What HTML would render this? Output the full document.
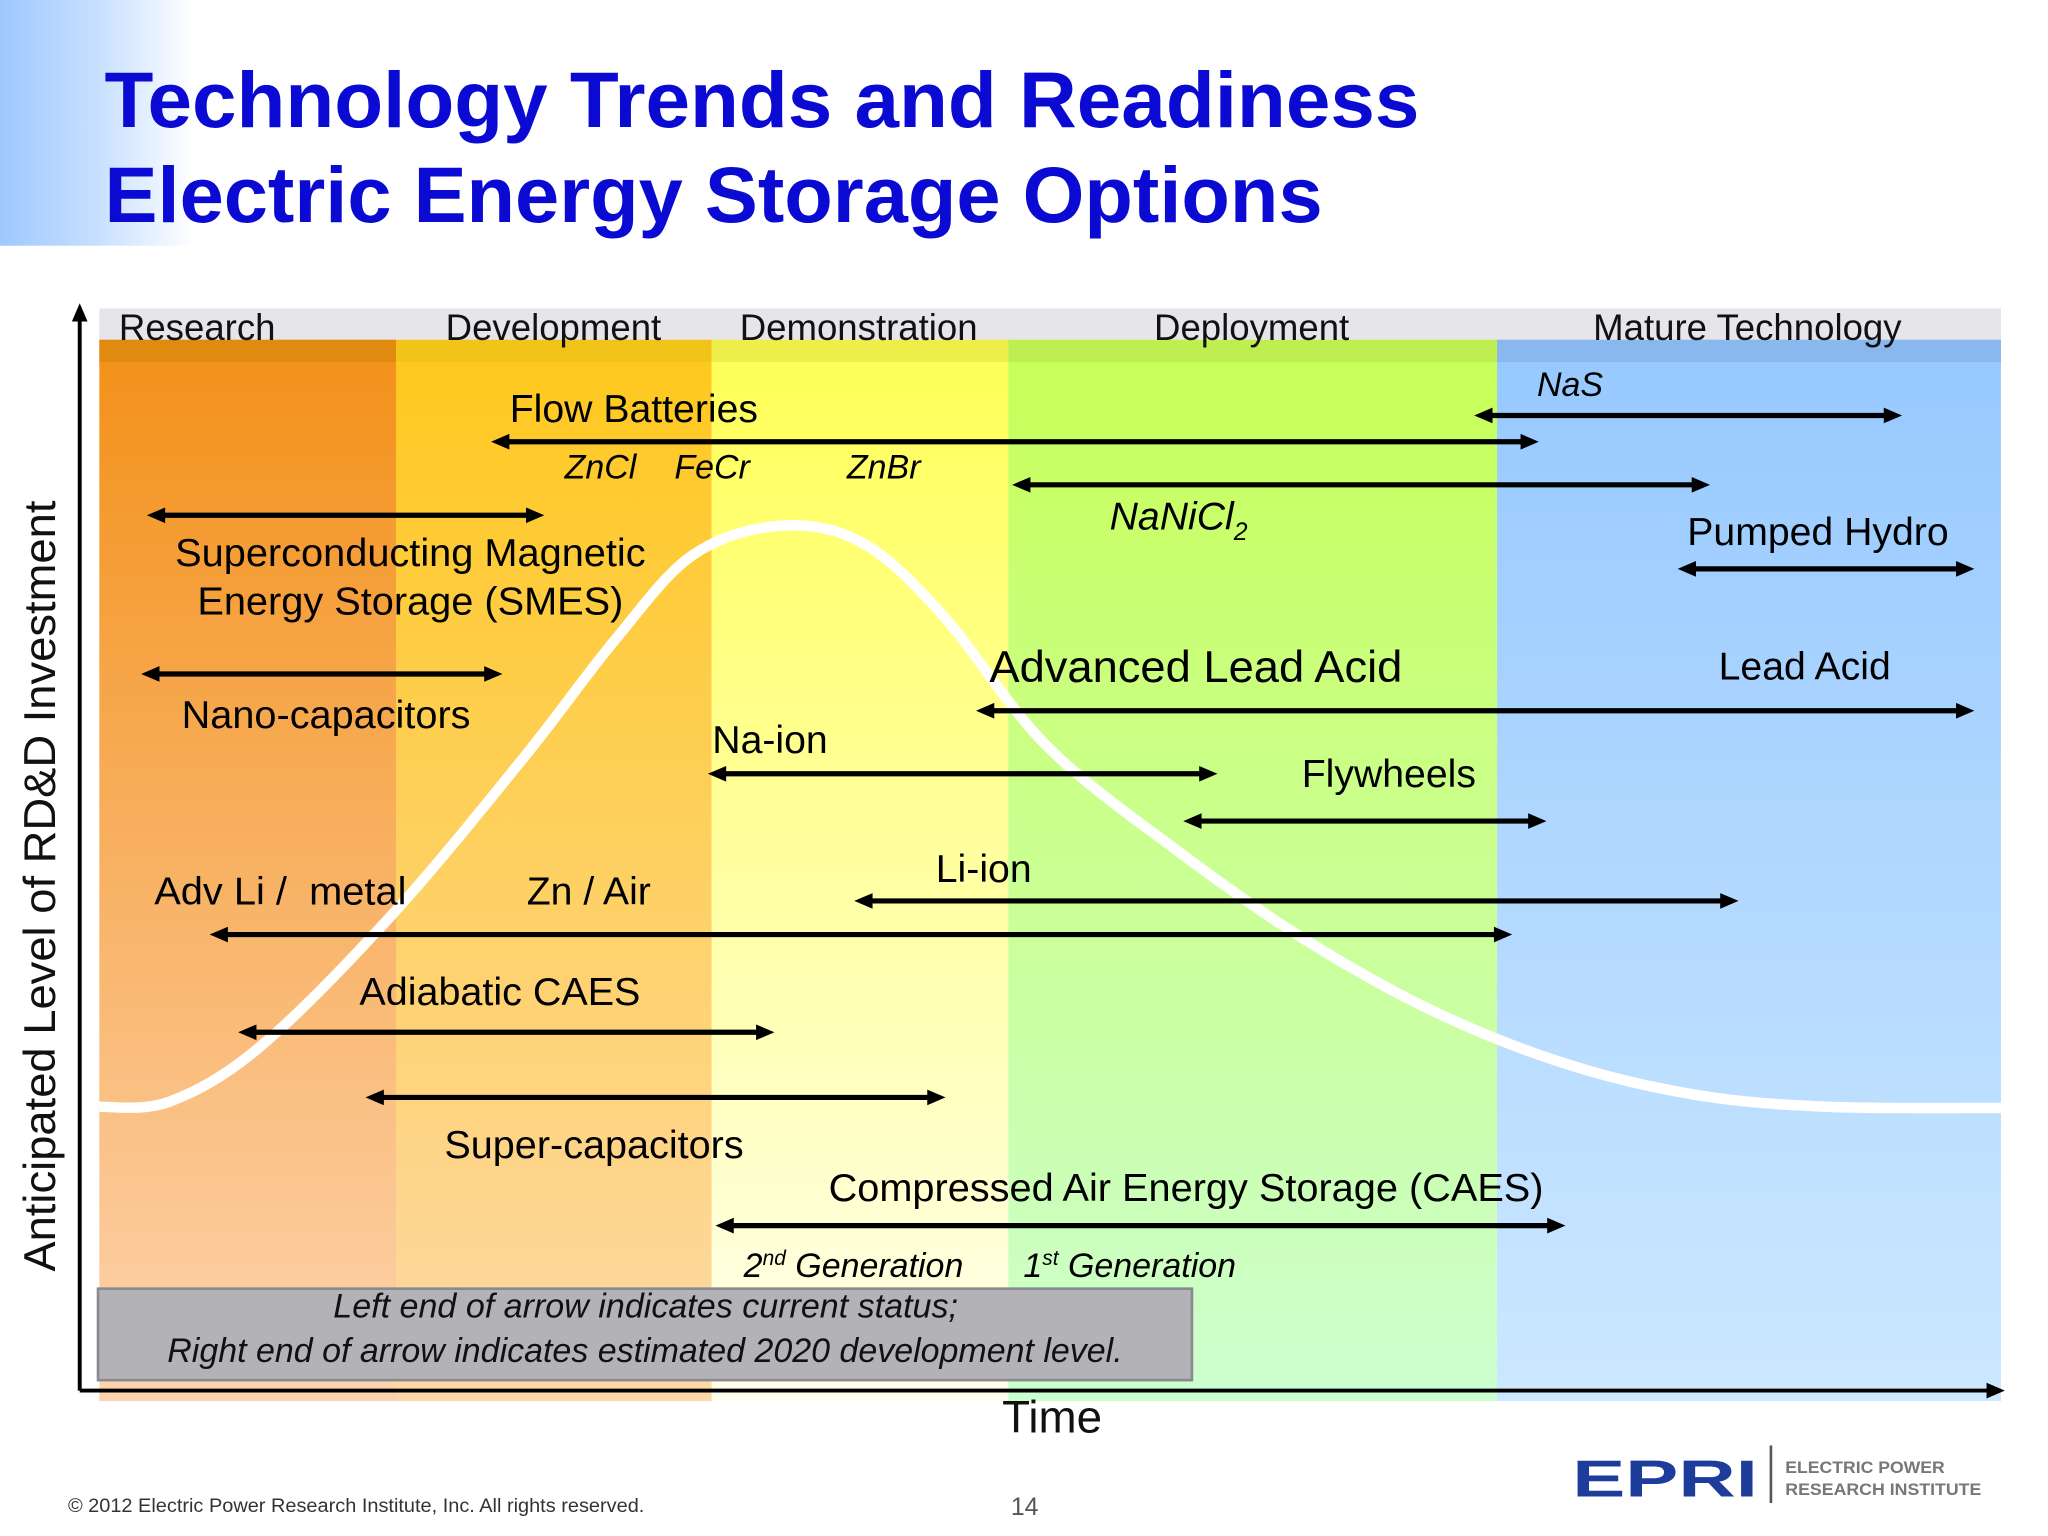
<!DOCTYPE html>
<html><head><meta charset="utf-8"><style>
html,body{margin:0;padding:0;background:#fff;}
svg{display:block;font-family:"Liberation Sans",Arial,sans-serif;}
</style></head><body>
<svg id="chart" width="2048" height="1536" viewBox="0 0 1567 1175.25" xmlns="http://www.w3.org/2000/svg">
<defs>
<linearGradient id="topblue" x1="0" x2="1" y1="0" y2="0"><stop offset="0" stop-color="#9ec8ff"/><stop offset="0.5" stop-color="#c8e0ff"/><stop offset="1" stop-color="#ffffff"/></linearGradient>
<linearGradient id="gR" x1="0" x2="0" y1="0" y2="1"><stop offset="0" stop-color="#f39018"/><stop offset="1" stop-color="#fdd3ae"/></linearGradient>
<linearGradient id="gD" x1="0" x2="0" y1="0" y2="1"><stop offset="0" stop-color="#ffc81c"/><stop offset="1" stop-color="#fdd9a8"/></linearGradient>
<linearGradient id="gM" x1="0" x2="0" y1="0" y2="1"><stop offset="0" stop-color="#ffff55"/><stop offset="1" stop-color="#ffffee"/></linearGradient>
<linearGradient id="gP" x1="0" x2="0" y1="0" y2="1"><stop offset="0" stop-color="#c8ff55"/><stop offset="1" stop-color="#ccffd0"/></linearGradient>
<linearGradient id="gT" x1="0" x2="0" y1="0" y2="1"><stop offset="0" stop-color="#96c8ff"/><stop offset="1" stop-color="#cce8ff"/></linearGradient>
</defs>
<rect x="0" y="0" width="150" height="188" fill="url(#topblue)"/>
<text x="80" y="97" font-size="60" font-weight="bold" fill="#0a0ad2" textLength="1006" lengthAdjust="spacingAndGlyphs">Technology Trends and Readiness</text>
<text x="80" y="170" font-size="60" font-weight="bold" fill="#0a0ad2" textLength="932" lengthAdjust="spacingAndGlyphs">Electric Energy Storage Options</text>

<rect x="76" y="236" width="1455" height="25" fill="#e6e6ea"/>
<g id="stages"></g>
<g id="curve"></g>
<g id="arrows"></g>

<g stroke="#000" stroke-width="3">
<line x1="61" y1="1064" x2="61" y2="242"/>
<line x1="61" y1="1064" x2="1524" y2="1064"/>
</g>
<polygon points="61,232 55,246 67,246" fill="#000"/>
<polygon points="1534,1064 1520,1058 1520,1070" fill="#000"/>

<g font-size="28" fill="#111">
<text x="91" y="260">Research</text>
<text x="341" y="260">Development</text>
<text x="566" y="260">Demonstration</text>
<text x="883" y="260">Deployment</text>
<text x="1219" y="260">Mature Technology</text>
</g>

<g font-size="30" fill="#000">
<text x="390" y="323">Flow Batteries</text>
<text x="1291" y="417">Pumped Hydro</text>
<text x="134" y="433" textLength="360" lengthAdjust="spacingAndGlyphs">Superconducting Magnetic</text>
<text x="151" y="470" textLength="326" lengthAdjust="spacingAndGlyphs">Energy Storage (SMES)</text>
<text x="757" y="522" font-size="34" textLength="316" lengthAdjust="spacingAndGlyphs">Advanced Lead Acid</text>
<text x="1315" y="520">Lead Acid</text>
<text x="139" y="557" textLength="221" lengthAdjust="spacingAndGlyphs">Nano-capacitors</text>
<text x="545" y="576">Na-ion</text>
<text x="996" y="602">Flywheels</text>
<text x="716" y="675">Li-ion</text>
<text x="118" y="692" xml:space="preserve" textLength="193" lengthAdjust="spacingAndGlyphs">Adv Li /  metal</text>
<text x="403" y="692">Zn / Air</text>
<text x="275" y="769" textLength="215" lengthAdjust="spacingAndGlyphs">Adiabatic CAES</text>
<text x="340" y="886" textLength="229" lengthAdjust="spacingAndGlyphs">Super-capacitors</text>
<text x="634" y="919" textLength="547" lengthAdjust="spacingAndGlyphs">Compressed Air Energy Storage (CAES)</text>
</g>
<g font-size="26" font-style="italic" fill="#000">
<text x="432" y="366">ZnCl</text>
<text x="516" y="366">FeCr</text>
<text x="648" y="366">ZnBr</text>
<text x="1176" y="303">NaS</text>
<text x="849" y="405" font-size="30">NaNiCl<tspan font-size="19" dy="8">2</tspan></text>
<text x="569" y="977">2<tspan font-size="16" dy="-9">nd</tspan><tspan dy="9"> Generation</tspan></text>
<text x="783" y="977">1<tspan font-size="16" dy="-9">st</tspan><tspan dy="9"> Generation</tspan></text>
</g>

<rect x="75" y="986" width="837" height="70" fill="#b3b3b7" stroke="#8a8a8e" stroke-width="2"/>
<g font-size="26" font-style="italic" fill="#111">
<text x="255" y="1008" textLength="478" lengthAdjust="spacingAndGlyphs">Left end of arrow indicates current status;</text>
<text x="128" y="1042" textLength="731" lengthAdjust="spacingAndGlyphs">Right end of arrow indicates estimated 2020 development level.</text>
</g>

<text transform="translate(42,678) rotate(-90)" text-anchor="middle" font-size="34" fill="#111" textLength="590" lengthAdjust="spacingAndGlyphs">Anticipated Level of RD&amp;D Investment</text>
<text x="805" y="1096" text-anchor="middle" font-size="35" fill="#111">Time</text>

<text x="52" y="1157" font-size="15" fill="#333" textLength="441" lengthAdjust="spacingAndGlyphs">© 2012 Electric Power Research Institute, Inc. All rights reserved.</text>
<text x="784" y="1159" text-anchor="middle" font-size="19" fill="#555">14</text>
<text x="1203" y="1145" font-size="40" font-weight="bold" fill="#1e3c9a" textLength="142" lengthAdjust="spacingAndGlyphs">EPRI</text>
<line x1="1355" y1="1106" x2="1355" y2="1150" stroke="#555" stroke-width="2"/>
<text x="1366" y="1127" font-size="13" font-weight="bold" fill="#777" textLength="122" lengthAdjust="spacingAndGlyphs">ELECTRIC POWER</text>
<text x="1366" y="1144" font-size="13" font-weight="bold" fill="#777" textLength="150" lengthAdjust="spacingAndGlyphs">RESEARCH INSTITUTE</text>
</svg>
<script>
// Stage boundaries on time scale (0-100)
const stageNames = ["research","development","demonstration","deployment","mature"];
const stageStarts = [0, 15.6, 32.2, 47.8, 73.5];
const stageEnds = [15.6, 32.2, 47.8, 73.5, 100];
const stageFills = ["url(#gR)","url(#gD)","url(#gM)","url(#gP)","url(#gT)"];
const stageStrip = ["#e08a10","#f2c41a","#eeee4a","#bfee50","#8ab8ee"];

// Technology arrows: time start/end, investment level (0-100)
const techNames = ["flow-batteries","nas","nanicl2","smes","pumped-hydro","nano-capacitors","advanced-lead-acid","na-ion","flywheels","li-ion","adv-li-metal","adiabatic-caes","super-capacitors","caes"];
const techStart = [20.6, 72.3, 48.0, 2.5, 83.0, 2.2, 46.1, 32.0, 57.0, 39.7, 5.8, 7.3, 14.0, 32.4];
const techEnd   = [75.7, 94.8, 84.7, 23.4, 98.6, 21.2, 98.6, 58.8, 76.1, 86.2, 74.3, 35.5, 44.5, 77.1];
const techLevel = [90.3, 92.8, 86.2, 83.3, 78.2, 68.2, 64.7, 58.7, 54.2, 46.6, 43.4, 34.1, 27.9, 15.7];

// Investment curve
const curveT = [0, 3.7, 8.5, 15.4, 22.3, 27.1, 31.2, 35.8, 40.1, 44.3, 49.8, 56.6, 63.5, 70.4, 77.3, 84.1, 91, 100];
const curveV = [27, 27.5, 32.8, 45.3, 60.2, 71.4, 79.5, 82.3, 80.7, 73.9, 61.4, 51.5, 42.8, 35.9, 31, 28.1, 27, 26.9];

const X0=76, X1=1531, Y0=1064, Y1=260;
function x(t){return X0+(X1-X0)*t/100;}
function y(v){return Y0-(Y0-Y1)*v/100;}
const NS="http://www.w3.org/2000/svg";
function mk(tag,attrs,parent){const e=document.createElementNS(NS,tag);for(const k in attrs)e.setAttribute(k,attrs[k]);parent.appendChild(e);return e;}

const sg=document.getElementById('stages');
stageNames.forEach((n,i)=>{
  const r=mk('rect',{x:x(stageStarts[i]),y:260,width:x(stageEnds[i])-x(stageStarts[i]),height:812,fill:stageFills[i]},sg);
  
  
  const s=mk('rect',{x:x(stageStarts[i]),y:260,width:x(stageEnds[i])-x(stageStarts[i]),height:17,fill:stageStrip[i]},sg);
  
  
});

const cg=document.getElementById('curve');
const pts=curveT.map((t,i)=>[x(t),y(curveV[i])]);
let d="M"+pts[0][0]+","+pts[0][1];
for(let i=0;i<pts.length-1;i++){
  const p0=pts[Math.max(0,i-1)],p1=pts[i],p2=pts[i+1],p3=pts[Math.min(pts.length-1,i+2)];
  const c1=[p1[0]+(p2[0]-p0[0])/6,p1[1]+(p2[1]-p0[1])/6];
  const c2=[p2[0]-(p3[0]-p1[0])/6,p2[1]-(p3[1]-p1[1])/6];
  d+=" C"+c1[0]+","+c1[1]+" "+c2[0]+","+c2[1]+" "+p2[0]+","+p2[1];
}
const cp=mk('path',{d:d,fill:"none",stroke:"#fff","stroke-width":8},cg);



const ag=document.getElementById('arrows');
techNames.forEach((n,i)=>{
  const xa=x(techStart[i]),xb=x(techEnd[i]),yy=y(techLevel[i]);
  const g=mk('g',{},ag);
  
  
  mk('line',{x1:xa+10,y1:yy,x2:xb-10,y2:yy,stroke:"#000","stroke-width":4},g);
  mk('polygon',{points:`${xa},${yy} ${xa+14},${yy-6} ${xa+14},${yy+6}`,fill:"#000"},g);
  mk('polygon',{points:`${xb},${yy} ${xb-14},${yy-6} ${xb-14},${yy+6}`,fill:"#000"},g);
});
</script>
</body></html>
